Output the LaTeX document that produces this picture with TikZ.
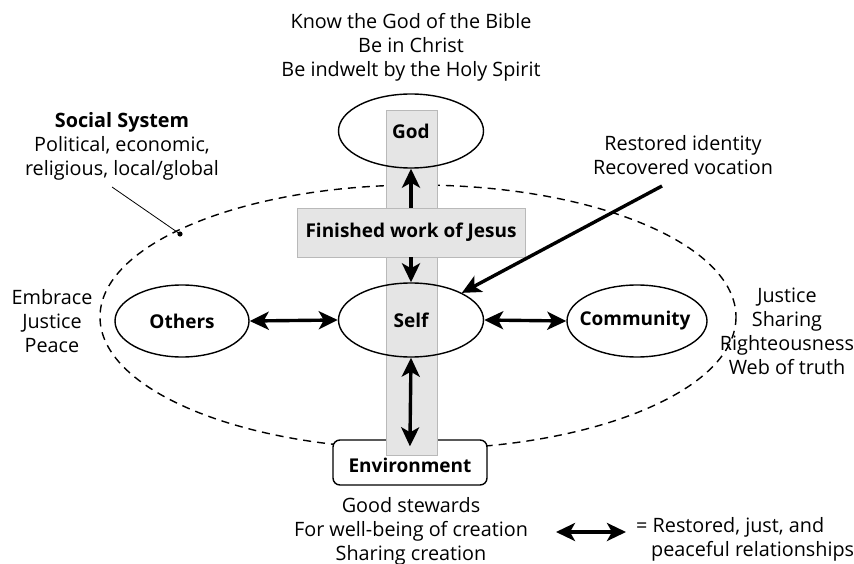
\documentclass[tikz,border=0pt]{standalone}
\usepackage{fontspec}
\setmainfont{Open Sans}
\usetikzlibrary{arrows.meta,shapes.geometric}

\tikzset{
  oval/.style={ellipse, draw, line width=1.4pt, inner sep=0pt},
  crossbar/.style={rectangle, fill=gray!20, draw=gray!55, line width=0.6pt, inner sep=0pt},
  envbox/.style={rectangle, rounded corners=7pt, draw, line width=1.4pt, fill=white, inner sep=0pt},
  rel/.style={line width=3.4pt, {Stealth[length=19pt,width=18pt,inset=5pt]}-{Stealth[length=19pt,width=18pt,inset=5pt]}},
  one/.style={line width=3.4pt, -{Stealth[length=19pt,width=18pt,inset=5pt]}},
  txt/.style={align=center, font=\fontsize{19.8}{24}\selectfont, inner sep=0pt},
  lbl/.style={font=\bfseries\fontsize{19}{20}\selectfont, inner sep=0pt},
  system/.style={draw, line width=1.4pt, dash pattern=on 8pt off 6pt}
}

\begin{document}
\begin{tikzpicture}[x=1pt,y=-1pt]
\useasboundingbox (0,0) rectangle (854,564);

% social system boundary
\draw[system] (418,317) ellipse [x radius=318, y radius=132];

% environment box sits over the boundary
\node[envbox, minimum width=154pt, minimum height=45pt] (env) at (410,462.5) {};

% the cross
\node[crossbar, minimum width=51pt, minimum height=345pt] (vbar) at (411.5,282.5) {};
\node[crossbar, minimum width=228pt, minimum height=49pt, lbl] (hbar) at (411,232.5) {Finished work of Jesus};

% relationship nodes
\node[oval, minimum width=145pt, minimum height=74pt, lbl] (god) at (411,131) {God};
\node[oval, minimum width=145pt, minimum height=74pt, lbl] (self) at (411,320) {Self};
\node[oval, minimum width=134pt, minimum height=72pt, lbl, fill=white] (others) at (182,321) {Others};
\node[oval, minimum width=140pt, minimum height=72pt, fill=white] (comm) at (637,321) {};
\node[lbl] (commtext) at (comm.center) [xshift=-2pt] {Community};
\node[lbl] (envtext) at (env.center) [yshift=-3pt] {Environment};

% relationships
\draw[one] (hbar.north) -- (god.south);
\draw[one] (hbar.south) -- (self.north);
\draw[rel, shorten >=-7pt] (self.south) -- (env.north);
\draw[rel] (others.east) -- (self.west);
\draw[rel] (self.east) -- (comm.west);

% restored identity pointer
\coordinate (idtail) at (662,186);
\draw[one] (idtail) -- (self);

% social system leader
\coordinate (sslead) at (112,187);
\coordinate (ssdot) at (180,234);
\draw[line width=0.8pt] (sslead) -- (ssdot);
\fill (ssdot) circle (2.6pt);

% annotations
\node[txt] (top) at (411,47) {Know the God of the Bible\\Be in Christ\\Be indwelt by the Holy Spirit};
\node[txt] (social) at (122,146) {\textbf{Social System}\\Political, economic,\\religious, local/global};
\node[txt] (ident) at (683,155) {Restored identity\\Recovered vocation};
\node[txt] (left) at (52,321) {Embrace\\Justice\\Peace};
\node[txt] (right) at (787,331) {Justice\\Sharing\\Righteousness\\Web of truth};
\node[txt] (bottom) at (411,531) {Good stewards\\For well-being of creation\\Sharing creation};

% legend
\coordinate (lg1) at (556,532);
\coordinate (lg2) at (626,532);
\draw[rel] (lg1) -- (lg2);
\node[txt, align=left, anchor=west] (legend) at (636,539) {= Restored, just, and\\\hspace{15pt}peaceful relationships};
\end{tikzpicture}
\end{document}
